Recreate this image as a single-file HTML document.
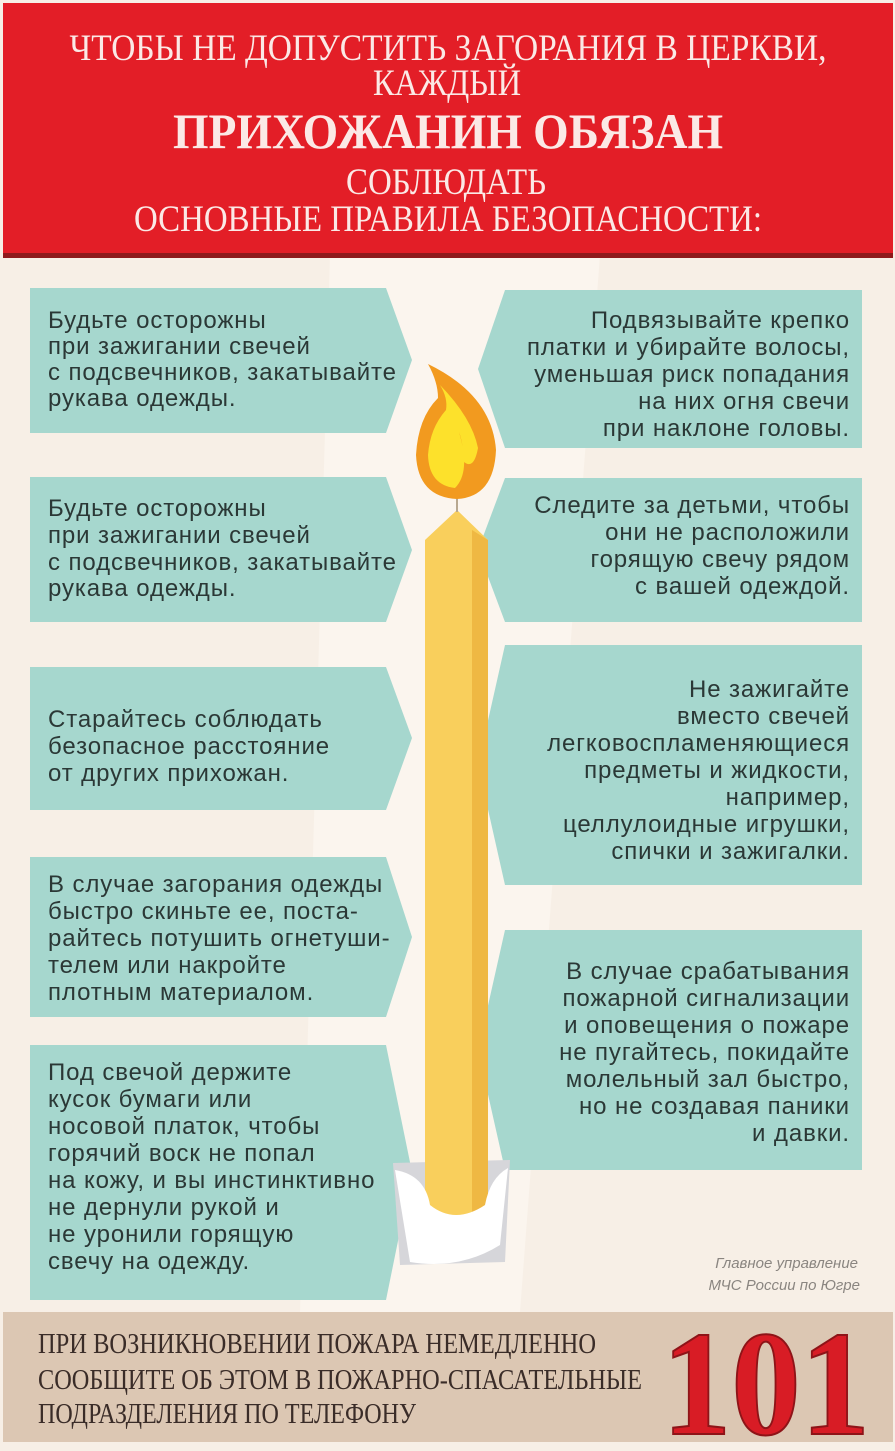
<!DOCTYPE html>
<html><head><meta charset="utf-8"><style>
html,body{margin:0;padding:0;background:#f7efe6;}
svg{display:block}
.s{font-family:"Liberation Sans","DejaVu Sans",sans-serif;font-size:24px;letter-spacing:0.9px;fill:#2b3836}
.h{font-family:"Liberation Serif","DejaVu Serif",serif;fill:#fbe9e6}
.f{font-family:"Liberation Serif","DejaVu Serif",serif;fill:#3a2c28;font-size:28px}
</style></head><body>
<svg width="895" height="1451" viewBox="0 0 895 1451" xmlns="http://www.w3.org/2000/svg">
<rect x="0" y="0" width="895" height="1451" fill="#f7efe6"/>
<polygon points="330,255 600,255 520,1312 300,1312" fill="#fbf5ee"/>
<!-- header -->
<rect x="3" y="3" width="890" height="255" fill="#8f1a1c"/>
<rect x="3" y="3" width="890" height="250" fill="#e31e27"/>
<text class="h" x="448" y="60" text-anchor="middle" font-size="37" textLength="757" lengthAdjust="spacingAndGlyphs">ЧТОБЫ НЕ ДОПУСТИТЬ ЗАГОРАНИЯ В ЦЕРКВИ,</text>
<text class="h" x="447" y="95" text-anchor="middle" font-size="37" textLength="148" lengthAdjust="spacingAndGlyphs">КАЖДЫЙ</text>
<text class="h" x="448" y="148" text-anchor="middle" font-size="50" font-weight="bold" textLength="550" lengthAdjust="spacingAndGlyphs">ПРИХОЖАНИН ОБЯЗАН</text>
<text class="h" x="446" y="194" text-anchor="middle" font-size="37" textLength="200" lengthAdjust="spacingAndGlyphs">СОБЛЮДАТЬ</text>
<text class="h" x="448" y="231" text-anchor="middle" font-size="37" textLength="628" lengthAdjust="spacingAndGlyphs">ОСНОВНЫЕ ПРАВИЛА БЕЗОПАСНОСТИ:</text>
<!-- boxes -->
<g fill="#a6d7ce">
<polygon points="30,288 386,288 412,360 386,433 30,433"/>
<polygon points="30,477 386,477 412,550 386,622 30,622"/>
<polygon points="30,667 386,667 412,738 386,810 30,810"/>
<polygon points="30,857 386,857 412,937 386,1017 30,1017"/>
<polygon points="30,1045 386,1045 412,1172 386,1300 30,1300"/>
<polygon points="862,290 505,290 478,369 505,448 862,448"/>
<polygon points="862,478 505,478 478,550 505,622 862,622"/>
<polygon points="862,645 505,645 478,765 505,885 862,885"/>
<polygon points="862,930 505,930 478,1050 505,1170 862,1170"/>
</g>
<g class="s">
<text x="48" y="328">Будьте осторожны</text>
<text x="48" y="354">при зажигании свечей</text>
<text x="48" y="380">с подсвечников, закатывайте</text>
<text x="48" y="406">рукава одежды.</text>
<text x="48" y="516">Будьте осторожны</text>
<text x="48" y="543">при зажигании свечей</text>
<text x="48" y="570">с подсвечников, закатывайте</text>
<text x="48" y="596">рукава одежды.</text>
<text x="48" y="727">Старайтесь соблюдать</text>
<text x="48" y="754">безопасное расстояние</text>
<text x="48" y="781">от других прихожан.</text>
<text x="48" y="892">В случае загорания одежды</text>
<text x="48" y="919">быстро скиньте ее, поста-</text>
<text x="48" y="946">райтесь потушить огнетуши-</text>
<text x="48" y="973">телем или накройте</text>
<text x="48" y="1000">плотным материалом.</text>
<text x="48" y="1080">Под свечой держите</text>
<text x="48" y="1107">кусок бумаги или</text>
<text x="48" y="1134">носовой платок, чтобы</text>
<text x="48" y="1161">горячий воск не попал</text>
<text x="48" y="1188">на кожу, и вы инстинктивно</text>
<text x="48" y="1215"> не дернули рукой и</text>
<text x="48" y="1242">не уронили горящую</text>
<text x="48" y="1269">свечу на одежду.</text>
</g>
<g class="s" text-anchor="end">
<text x="850" y="328">Подвязывайте крепко</text>
<text x="850" y="355">платки и убирайте волосы,</text>
<text x="850" y="382">уменьшая риск попадания</text>
<text x="850" y="409">на них огня свечи</text>
<text x="850" y="436">при наклоне головы.</text>
<text x="850" y="513">Следите за детьми, чтобы</text>
<text x="850" y="540">они не расположили</text>
<text x="850" y="567">горящую свечу рядом</text>
<text x="850" y="594">с вашей одеждой.</text>
<text x="850" y="697">Не зажигайте</text>
<text x="850" y="724">вместо свечей</text>
<text x="850" y="751">легковоспламеняющиеся</text>
<text x="850" y="778">предметы и жидкости,</text>
<text x="850" y="805">например,</text>
<text x="850" y="832">целлулоидные игрушки,</text>
<text x="850" y="859">спички и зажигалки.</text>
<text x="850" y="979">В случае срабатывания</text>
<text x="850" y="1006">пожарной сигнализации</text>
<text x="850" y="1033">и оповещения о пожаре</text>
<text x="850" y="1060">не пугайтесь, покидайте</text>
<text x="850" y="1087">молельный зал быстро,</text>
<text x="850" y="1114">но не создавая паники</text>
<text x="850" y="1141">и давки.</text>
</g>
<!-- candle -->
<polygon points="393,1163 510,1160 505,1262 400,1265" fill="#d6d6da"/>
<polygon points="425,540 457,510 488,540 488,1215 425,1215" fill="#f9cf5c"/>
<polygon points="472,530 488,540 488,1215 472,1215" fill="#efb843"/>
<path d="M395,1170 Q425,1175 430,1205 Q455,1225 485,1205 Q490,1178 508,1168 L500,1245 Q460,1270 410,1262 Z" fill="#ffffff"/>
<line x1="457" y1="492" x2="457" y2="512" stroke="#b8a890" stroke-width="2"/>
<path d="M428,364 Q492,395 496,450 Q494,497 457,499 Q418,497 416,455 Q418,418 438,398 Q438,382 428,364 Z" fill="#f29a1f"/>
<path d="M440,385 Q472,418 478,448 Q474,470 464,462 Q463,442 459,432 Q471,472 455,488 Q429,485 428,455 Q430,428 446,410 Q448,398 440,385 Z" fill="#fde12b"/>
<!-- attribution -->
<g font-family="Liberation Sans,sans-serif" font-style="italic" font-size="15" fill="#8a8580" text-anchor="end">
<text x="858" y="1268">Главное управление</text>
<text x="860" y="1290">МЧС России по Югре</text>
</g>
<!-- footer -->
<rect x="3" y="1312" width="890" height="130" fill="#dcc7b3"/>
<text class="f" x="38" y="1353" textLength="558" lengthAdjust="spacingAndGlyphs">ПРИ ВОЗНИКНОВЕНИИ ПОЖАРА НЕМЕДЛЕННО</text>
<text class="f" x="38" y="1389" textLength="604" lengthAdjust="spacingAndGlyphs">СООБЩИТЕ ОБ ЭТОМ В ПОЖАРНО-СПАСАТЕЛЬНЫЕ</text>
<text class="f" x="38" y="1423" textLength="378" lengthAdjust="spacingAndGlyphs">ПОДРАЗДЕЛЕНИЯ ПО ТЕЛЕФОНУ</text>
<text x="662" y="1434" font-family="Liberation Serif,serif" font-weight="bold" font-size="150" fill="#d81c25" stroke="#8e1418" stroke-width="2" textLength="208" lengthAdjust="spacingAndGlyphs">101</text>
</svg>
</body></html>
